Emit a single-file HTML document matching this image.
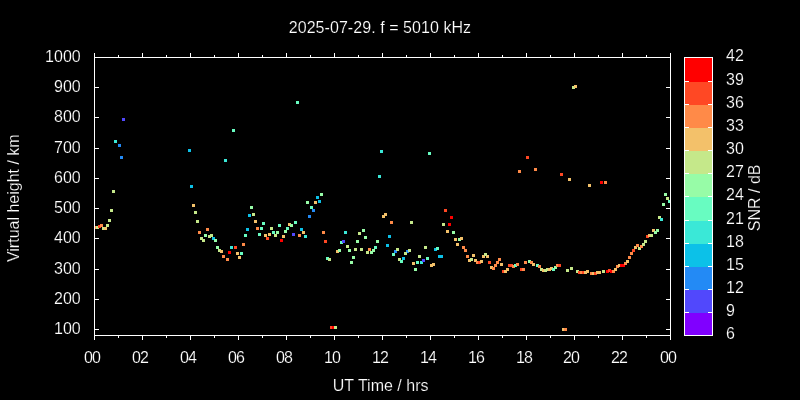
<!DOCTYPE html>
<html><head><meta charset="utf-8"><title>Virtual height plot</title>
<style>html,body{margin:0;padding:0;background:#000;}body{width:800px;height:400px;overflow:hidden;}svg{display:block;}text{font-family:"Liberation Sans",Arial,sans-serif;font-size:16px;fill:#fff;stroke:#000;stroke-width:0.2px;}</style></head><body>
<svg width="800" height="400" viewBox="0 0 800 400">
<rect width="800" height="400" fill="#000"/>
<g shape-rendering="crispEdges">
<rect x="122" y="118" width="3" height="3" fill="#5148fc"/>
<rect x="232" y="129" width="3" height="3" fill="#68fcc1"/>
<rect x="114" y="140" width="3" height="3" fill="#3ae8d7"/>
<rect x="118" y="144" width="3" height="3" fill="#238af5"/>
<rect x="120" y="156" width="3" height="3" fill="#238af5"/>
<rect x="188" y="149" width="3" height="3" fill="#0cc1e8"/>
<rect x="224" y="159" width="3" height="3" fill="#3ae8d7"/>
<rect x="190" y="185" width="3" height="3" fill="#0cc1e8"/>
<rect x="112" y="190" width="3" height="3" fill="#c5e88a"/>
<rect x="192" y="204" width="3" height="3" fill="#f3c16a"/>
<rect x="194" y="211" width="3" height="3" fill="#c5e88a"/>
<rect x="110" y="209" width="3" height="3" fill="#c5e88a"/>
<rect x="108" y="219" width="3" height="3" fill="#c5e88a"/>
<rect x="106" y="224" width="3" height="3" fill="#c5e88a"/>
<rect x="94" y="226" width="3" height="3" fill="#ff8a48"/>
<rect x="96" y="226" width="3" height="3" fill="#c5e88a"/>
<rect x="98" y="225" width="3" height="3" fill="#ff4824"/>
<rect x="100" y="224" width="3" height="3" fill="#ff8a48"/>
<rect x="102" y="227" width="3" height="3" fill="#c5e88a"/>
<rect x="104" y="227" width="3" height="3" fill="#f3c16a"/>
<rect x="196" y="220" width="3" height="3" fill="#c5e88a"/>
<rect x="198" y="231" width="3" height="3" fill="#ff8a48"/>
<rect x="206" y="228" width="3" height="3" fill="#ff8a48"/>
<rect x="200" y="237" width="3" height="3" fill="#c5e88a"/>
<rect x="202" y="239" width="3" height="3" fill="#c5e88a"/>
<rect x="204" y="234" width="3" height="3" fill="#97fca7"/>
<rect x="208" y="235" width="3" height="3" fill="#c5e88a"/>
<rect x="210" y="234" width="3" height="3" fill="#c5e88a"/>
<rect x="212" y="237" width="3" height="3" fill="#0cc1e8"/>
<rect x="214" y="239" width="3" height="3" fill="#97fca7"/>
<rect x="250" y="206" width="3" height="3" fill="#97fca7"/>
<rect x="248" y="214" width="3" height="3" fill="#0cc1e8"/>
<rect x="252" y="213" width="3" height="3" fill="#c5e88a"/>
<rect x="254" y="220" width="3" height="3" fill="#f3c16a"/>
<rect x="246" y="228" width="3" height="3" fill="#0cc1e8"/>
<rect x="244" y="234" width="3" height="3" fill="#68fcc1"/>
<rect x="242" y="243" width="3" height="3" fill="#ff8a48"/>
<rect x="256" y="227" width="3" height="3" fill="#ff8a48"/>
<rect x="260" y="227" width="3" height="3" fill="#68fcc1"/>
<rect x="262" y="222" width="3" height="3" fill="#68fcc1"/>
<rect x="258" y="233" width="3" height="3" fill="#68fcc1"/>
<rect x="264" y="234" width="3" height="3" fill="#f3c16a"/>
<rect x="266" y="237" width="3" height="3" fill="#ff4824"/>
<rect x="268" y="233" width="3" height="3" fill="#f3c16a"/>
<rect x="270" y="227" width="3" height="3" fill="#c5e88a"/>
<rect x="272" y="231" width="3" height="3" fill="#68fcc1"/>
<rect x="274" y="234" width="3" height="3" fill="#c5e88a"/>
<rect x="276" y="231" width="3" height="3" fill="#97fca7"/>
<rect x="278" y="224" width="3" height="3" fill="#68fcc1"/>
<rect x="280" y="239" width="3" height="3" fill="#ff0000"/>
<rect x="282" y="235" width="3" height="3" fill="#f3c16a"/>
<rect x="284" y="230" width="3" height="3" fill="#97fca7"/>
<rect x="216" y="246" width="3" height="3" fill="#97fca7"/>
<rect x="218" y="249" width="3" height="3" fill="#c5e88a"/>
<rect x="220" y="250" width="3" height="3" fill="#f3c16a"/>
<rect x="222" y="255" width="3" height="3" fill="#ff8a48"/>
<rect x="226" y="258" width="3" height="3" fill="#ff8a48"/>
<rect x="228" y="251" width="3" height="3" fill="#ff0000"/>
<rect x="230" y="246" width="3" height="3" fill="#3ae8d7"/>
<rect x="234" y="246" width="3" height="3" fill="#ff4824"/>
<rect x="236" y="252" width="3" height="3" fill="#f3c16a"/>
<rect x="238" y="256" width="3" height="3" fill="#f3c16a"/>
<rect x="240" y="252" width="3" height="3" fill="#68fcc1"/>
<rect x="320" y="193" width="3" height="3" fill="#97fca7"/>
<rect x="316" y="196" width="3" height="3" fill="#0cc1e8"/>
<rect x="318" y="200" width="3" height="3" fill="#0cc1e8"/>
<rect x="314" y="201" width="3" height="3" fill="#f3c16a"/>
<rect x="306" y="201" width="3" height="3" fill="#97fca7"/>
<rect x="310" y="206" width="3" height="3" fill="#68fcc1"/>
<rect x="312" y="209" width="3" height="3" fill="#238af5"/>
<rect x="308" y="215" width="3" height="3" fill="#238af5"/>
<rect x="294" y="221" width="3" height="3" fill="#68fcc1"/>
<rect x="288" y="223" width="3" height="3" fill="#f3c16a"/>
<rect x="290" y="224" width="3" height="3" fill="#97fca7"/>
<rect x="286" y="227" width="3" height="3" fill="#68fcc1"/>
<rect x="300" y="228" width="3" height="3" fill="#0cc1e8"/>
<rect x="302" y="231" width="3" height="3" fill="#f3c16a"/>
<rect x="292" y="233" width="3" height="3" fill="#5148fc"/>
<rect x="298" y="234" width="3" height="3" fill="#ff8a48"/>
<rect x="304" y="235" width="3" height="3" fill="#3ae8d7"/>
<rect x="322" y="231" width="3" height="3" fill="#ff8a48"/>
<rect x="324" y="240" width="3" height="3" fill="#ff4824"/>
<rect x="326" y="257" width="3" height="3" fill="#68fcc1"/>
<rect x="328" y="258" width="3" height="3" fill="#c5e88a"/>
<rect x="344" y="231" width="3" height="3" fill="#3ae8d7"/>
<rect x="340" y="241" width="3" height="3" fill="#68fcc1"/>
<rect x="342" y="240" width="3" height="3" fill="#5148fc"/>
<rect x="346" y="245" width="3" height="3" fill="#c5e88a"/>
<rect x="336" y="250" width="3" height="3" fill="#f3c16a"/>
<rect x="338" y="249" width="3" height="3" fill="#97fca7"/>
<rect x="348" y="249" width="3" height="3" fill="#97fca7"/>
<rect x="350" y="261" width="3" height="3" fill="#97fca7"/>
<rect x="352" y="256" width="3" height="3" fill="#97fca7"/>
<rect x="354" y="248" width="3" height="3" fill="#c5e88a"/>
<rect x="356" y="240" width="3" height="3" fill="#97fca7"/>
<rect x="358" y="232" width="3" height="3" fill="#c5e88a"/>
<rect x="362" y="229" width="3" height="3" fill="#97fca7"/>
<rect x="360" y="248" width="3" height="3" fill="#c5e88a"/>
<rect x="364" y="236" width="3" height="3" fill="#97fca7"/>
<rect x="366" y="251" width="3" height="3" fill="#c5e88a"/>
<rect x="368" y="248" width="3" height="3" fill="#ff8a48"/>
<rect x="370" y="251" width="3" height="3" fill="#97fca7"/>
<rect x="372" y="249" width="3" height="3" fill="#97fca7"/>
<rect x="374" y="246" width="3" height="3" fill="#68fcc1"/>
<rect x="376" y="240" width="3" height="3" fill="#97fca7"/>
<rect x="384" y="213" width="3" height="3" fill="#f3c16a"/>
<rect x="382" y="215" width="3" height="3" fill="#f3c16a"/>
<rect x="390" y="221" width="3" height="3" fill="#ff8a48"/>
<rect x="410" y="221" width="3" height="3" fill="#c5e88a"/>
<rect x="388" y="235" width="3" height="3" fill="#0cc1e8"/>
<rect x="386" y="244" width="3" height="3" fill="#0cc1e8"/>
<rect x="394" y="250" width="3" height="3" fill="#238af5"/>
<rect x="396" y="248" width="3" height="3" fill="#c5e88a"/>
<rect x="392" y="253" width="3" height="3" fill="#68fcc1"/>
<rect x="406" y="250" width="3" height="3" fill="#238af5"/>
<rect x="408" y="249" width="3" height="3" fill="#c5e88a"/>
<rect x="404" y="252" width="3" height="3" fill="#c5e88a"/>
<rect x="402" y="257" width="3" height="3" fill="#0cc1e8"/>
<rect x="398" y="258" width="3" height="3" fill="#c5e88a"/>
<rect x="400" y="260" width="3" height="3" fill="#68fcc1"/>
<rect x="424" y="246" width="3" height="3" fill="#c5e88a"/>
<rect x="418" y="255" width="3" height="3" fill="#c5e88a"/>
<rect x="412" y="262" width="3" height="3" fill="#f3c16a"/>
<rect x="416" y="261" width="3" height="3" fill="#68fcc1"/>
<rect x="414" y="268" width="3" height="3" fill="#97fca7"/>
<rect x="420" y="261" width="3" height="3" fill="#3ae8d7"/>
<rect x="422" y="259" width="3" height="3" fill="#5148fc"/>
<rect x="426" y="257" width="3" height="3" fill="#68fcc1"/>
<rect x="434" y="248" width="3" height="3" fill="#0cc1e8"/>
<rect x="436" y="247" width="3" height="3" fill="#68fcc1"/>
<rect x="430" y="264" width="3" height="3" fill="#f3c16a"/>
<rect x="432" y="263" width="3" height="3" fill="#f3c16a"/>
<rect x="438" y="255" width="3" height="3" fill="#0cc1e8"/>
<rect x="440" y="255" width="3" height="3" fill="#0cc1e8"/>
<rect x="444" y="209" width="3" height="3" fill="#ff4824"/>
<rect x="450" y="216" width="3" height="3" fill="#ff0000"/>
<rect x="448" y="223" width="3" height="3" fill="#ff0000"/>
<rect x="442" y="223" width="3" height="3" fill="#c5e88a"/>
<rect x="446" y="230" width="3" height="3" fill="#f3c16a"/>
<rect x="452" y="231" width="3" height="3" fill="#97fca7"/>
<rect x="454" y="238" width="3" height="3" fill="#f3c16a"/>
<rect x="458" y="238" width="3" height="3" fill="#97fca7"/>
<rect x="460" y="237" width="3" height="3" fill="#f3c16a"/>
<rect x="456" y="243" width="3" height="3" fill="#f3c16a"/>
<rect x="462" y="246" width="3" height="3" fill="#ff8a48"/>
<rect x="464" y="249" width="3" height="3" fill="#ff8a48"/>
<rect x="466" y="255" width="3" height="3" fill="#ff8a48"/>
<rect x="468" y="259" width="3" height="3" fill="#f3c16a"/>
<rect x="470" y="258" width="3" height="3" fill="#c5e88a"/>
<rect x="472" y="254" width="3" height="3" fill="#f3c16a"/>
<rect x="474" y="259" width="3" height="3" fill="#f3c16a"/>
<rect x="476" y="261" width="3" height="3" fill="#ff8a48"/>
<rect x="478" y="261" width="3" height="3" fill="#ff4824"/>
<rect x="480" y="260" width="3" height="3" fill="#f3c16a"/>
<rect x="482" y="255" width="3" height="3" fill="#f3c16a"/>
<rect x="486" y="255" width="3" height="3" fill="#f3c16a"/>
<rect x="484" y="253" width="3" height="3" fill="#c5e88a"/>
<rect x="488" y="261" width="3" height="3" fill="#ff4824"/>
<rect x="490" y="266" width="3" height="3" fill="#f3c16a"/>
<rect x="492" y="267" width="3" height="3" fill="#ff8a48"/>
<rect x="494" y="264" width="3" height="3" fill="#ff8a48"/>
<rect x="496" y="261" width="3" height="3" fill="#ff8a48"/>
<rect x="498" y="258" width="3" height="3" fill="#ff8a48"/>
<rect x="500" y="263" width="3" height="3" fill="#f3c16a"/>
<rect x="502" y="270" width="3" height="3" fill="#ff4824"/>
<rect x="504" y="270" width="3" height="3" fill="#f3c16a"/>
<rect x="506" y="268" width="3" height="3" fill="#f3c16a"/>
<rect x="508" y="264" width="3" height="3" fill="#ff4824"/>
<rect x="510" y="264" width="3" height="3" fill="#ff4824"/>
<rect x="512" y="265" width="3" height="3" fill="#ff8a48"/>
<rect x="514" y="264" width="3" height="3" fill="#68fcc1"/>
<rect x="516" y="263" width="3" height="3" fill="#ff8a48"/>
<rect x="520" y="268" width="3" height="3" fill="#ff4824"/>
<rect x="522" y="268" width="3" height="3" fill="#ff8a48"/>
<rect x="524" y="261" width="3" height="3" fill="#ff8a48"/>
<rect x="528" y="260" width="3" height="3" fill="#97fca7"/>
<rect x="530" y="261" width="3" height="3" fill="#ff8a48"/>
<rect x="532" y="263" width="3" height="3" fill="#f3c16a"/>
<rect x="536" y="264" width="3" height="3" fill="#68fcc1"/>
<rect x="538" y="265" width="3" height="3" fill="#ff8a48"/>
<rect x="540" y="268" width="3" height="3" fill="#c5e88a"/>
<rect x="542" y="269" width="3" height="3" fill="#f3c16a"/>
<rect x="544" y="269" width="3" height="3" fill="#c5e88a"/>
<rect x="546" y="268" width="3" height="3" fill="#c5e88a"/>
<rect x="548" y="268" width="3" height="3" fill="#f3c16a"/>
<rect x="550" y="267" width="3" height="3" fill="#f3c16a"/>
<rect x="552" y="268" width="3" height="3" fill="#68fcc1"/>
<rect x="554" y="266" width="3" height="3" fill="#97fca7"/>
<rect x="556" y="264" width="3" height="3" fill="#ff8a48"/>
<rect x="558" y="264" width="3" height="3" fill="#ff4824"/>
<rect x="566" y="269" width="3" height="3" fill="#c5e88a"/>
<rect x="570" y="267" width="3" height="3" fill="#c5e88a"/>
<rect x="576" y="270" width="3" height="3" fill="#c5e88a"/>
<rect x="578" y="271" width="3" height="3" fill="#ff4824"/>
<rect x="580" y="271" width="3" height="3" fill="#ff8a48"/>
<rect x="582" y="271" width="3" height="3" fill="#ff4824"/>
<rect x="584" y="271" width="3" height="3" fill="#f3c16a"/>
<rect x="586" y="270" width="3" height="3" fill="#f3c16a"/>
<rect x="590" y="272" width="3" height="3" fill="#ff8a48"/>
<rect x="592" y="272" width="3" height="3" fill="#f3c16a"/>
<rect x="594" y="272" width="3" height="3" fill="#ff4824"/>
<rect x="596" y="271" width="3" height="3" fill="#f3c16a"/>
<rect x="598" y="271" width="3" height="3" fill="#f3c16a"/>
<rect x="602" y="270" width="3" height="3" fill="#c5e88a"/>
<rect x="606" y="270" width="3" height="3" fill="#ff0000"/>
<rect x="608" y="269" width="3" height="3" fill="#ff4824"/>
<rect x="610" y="270" width="3" height="3" fill="#ff0000"/>
<rect x="612" y="270" width="3" height="3" fill="#ff8a48"/>
<rect x="614" y="268" width="3" height="3" fill="#f3c16a"/>
<rect x="616" y="265" width="3" height="3" fill="#ff8a48"/>
<rect x="618" y="264" width="3" height="3" fill="#f3c16a"/>
<rect x="620" y="264" width="3" height="3" fill="#ff0000"/>
<rect x="622" y="264" width="3" height="3" fill="#ff0000"/>
<rect x="624" y="262" width="3" height="3" fill="#ff8a48"/>
<rect x="626" y="260" width="3" height="3" fill="#f3c16a"/>
<rect x="628" y="256" width="3" height="3" fill="#ff8a48"/>
<rect x="630" y="252" width="3" height="3" fill="#ff8a48"/>
<rect x="632" y="249" width="3" height="3" fill="#ff4824"/>
<rect x="634" y="246" width="3" height="3" fill="#f3c16a"/>
<rect x="636" y="244" width="3" height="3" fill="#ff8a48"/>
<rect x="638" y="247" width="3" height="3" fill="#c5e88a"/>
<rect x="640" y="245" width="3" height="3" fill="#ff8a48"/>
<rect x="642" y="243" width="3" height="3" fill="#c5e88a"/>
<rect x="644" y="240" width="3" height="3" fill="#c5e88a"/>
<rect x="646" y="235" width="3" height="3" fill="#ff4824"/>
<rect x="648" y="234" width="3" height="3" fill="#f3c16a"/>
<rect x="650" y="234" width="3" height="3" fill="#c5e88a"/>
<rect x="652" y="229" width="3" height="3" fill="#f3c16a"/>
<rect x="654" y="231" width="3" height="3" fill="#97fca7"/>
<rect x="656" y="229" width="3" height="3" fill="#97fca7"/>
<rect x="664" y="193" width="3" height="3" fill="#97fca7"/>
<rect x="666" y="197" width="3" height="3" fill="#c5e88a"/>
<rect x="668" y="200" width="3" height="3" fill="#68fcc1"/>
<rect x="662" y="203" width="3" height="3" fill="#97fca7"/>
<rect x="658" y="216" width="3" height="3" fill="#c5e88a"/>
<rect x="660" y="218" width="3" height="3" fill="#3ae8d7"/>
<rect x="296" y="101" width="3" height="3" fill="#68fcc1"/>
<rect x="380" y="150" width="3" height="3" fill="#3ae8d7"/>
<rect x="428" y="152" width="3" height="3" fill="#68fcc1"/>
<rect x="378" y="175" width="3" height="3" fill="#3ae8d7"/>
<rect x="572" y="86" width="3" height="3" fill="#c5e88a"/>
<rect x="574" y="85" width="3" height="3" fill="#f3c16a"/>
<rect x="526" y="156" width="3" height="3" fill="#ff4824"/>
<rect x="518" y="170" width="3" height="3" fill="#ff8a48"/>
<rect x="534" y="168" width="3" height="3" fill="#ff8a48"/>
<rect x="560" y="173" width="3" height="3" fill="#ff4824"/>
<rect x="568" y="178" width="3" height="3" fill="#f3c16a"/>
<rect x="588" y="184" width="3" height="3" fill="#f3c16a"/>
<rect x="600" y="181" width="3" height="3" fill="#ff0000"/>
<rect x="604" y="181" width="3" height="3" fill="#ff8a48"/>
<rect x="330" y="326" width="3" height="3" fill="#ff4824"/>
<rect x="332" y="326" width="3" height="3" fill="#ff0000"/>
<rect x="334" y="326" width="3" height="3" fill="#c5e88a"/>
<rect x="562" y="328" width="3" height="3" fill="#f3c16a"/>
<rect x="564" y="328" width="3" height="3" fill="#ff8a48"/>
</g>
<g fill="#fff" shape-rendering="crispEdges">
<rect x="94" y="57" width="577" height="1"/>
<rect x="94" y="335" width="577" height="1"/>
<rect x="94" y="57" width="1" height="279"/>
<rect x="670" y="57" width="1" height="279"/>
<rect x="94" y="336" width="1" height="4"/>
<rect x="94" y="53" width="1" height="4"/>
<rect x="118" y="336" width="1" height="2"/>
<rect x="118" y="55" width="1" height="2"/>
<rect x="142" y="336" width="1" height="4"/>
<rect x="142" y="53" width="1" height="4"/>
<rect x="166" y="336" width="1" height="2"/>
<rect x="166" y="55" width="1" height="2"/>
<rect x="190" y="336" width="1" height="4"/>
<rect x="190" y="53" width="1" height="4"/>
<rect x="214" y="336" width="1" height="2"/>
<rect x="214" y="55" width="1" height="2"/>
<rect x="238" y="336" width="1" height="4"/>
<rect x="238" y="53" width="1" height="4"/>
<rect x="262" y="336" width="1" height="2"/>
<rect x="262" y="55" width="1" height="2"/>
<rect x="286" y="336" width="1" height="4"/>
<rect x="286" y="53" width="1" height="4"/>
<rect x="310" y="336" width="1" height="2"/>
<rect x="310" y="55" width="1" height="2"/>
<rect x="334" y="336" width="1" height="4"/>
<rect x="334" y="53" width="1" height="4"/>
<rect x="358" y="336" width="1" height="2"/>
<rect x="358" y="55" width="1" height="2"/>
<rect x="382" y="336" width="1" height="4"/>
<rect x="382" y="53" width="1" height="4"/>
<rect x="406" y="336" width="1" height="2"/>
<rect x="406" y="55" width="1" height="2"/>
<rect x="430" y="336" width="1" height="4"/>
<rect x="430" y="53" width="1" height="4"/>
<rect x="454" y="336" width="1" height="2"/>
<rect x="454" y="55" width="1" height="2"/>
<rect x="478" y="336" width="1" height="4"/>
<rect x="478" y="53" width="1" height="4"/>
<rect x="502" y="336" width="1" height="2"/>
<rect x="502" y="55" width="1" height="2"/>
<rect x="526" y="336" width="1" height="4"/>
<rect x="526" y="53" width="1" height="4"/>
<rect x="550" y="336" width="1" height="2"/>
<rect x="550" y="55" width="1" height="2"/>
<rect x="574" y="336" width="1" height="4"/>
<rect x="574" y="53" width="1" height="4"/>
<rect x="598" y="336" width="1" height="2"/>
<rect x="598" y="55" width="1" height="2"/>
<rect x="622" y="336" width="1" height="4"/>
<rect x="622" y="53" width="1" height="4"/>
<rect x="646" y="336" width="1" height="2"/>
<rect x="646" y="55" width="1" height="2"/>
<rect x="670" y="336" width="1" height="4"/>
<rect x="670" y="53" width="1" height="4"/>
<rect x="95" y="329" width="4" height="1"/>
<rect x="666" y="329" width="4" height="1"/>
<rect x="95" y="299" width="4" height="1"/>
<rect x="666" y="299" width="4" height="1"/>
<rect x="95" y="269" width="4" height="1"/>
<rect x="666" y="269" width="4" height="1"/>
<rect x="95" y="238" width="4" height="1"/>
<rect x="666" y="238" width="4" height="1"/>
<rect x="95" y="208" width="4" height="1"/>
<rect x="666" y="208" width="4" height="1"/>
<rect x="95" y="178" width="4" height="1"/>
<rect x="666" y="178" width="4" height="1"/>
<rect x="95" y="148" width="4" height="1"/>
<rect x="666" y="148" width="4" height="1"/>
<rect x="95" y="117" width="4" height="1"/>
<rect x="666" y="117" width="4" height="1"/>
<rect x="95" y="87" width="4" height="1"/>
<rect x="666" y="87" width="4" height="1"/>
<rect x="95" y="57" width="4" height="1"/>
<rect x="666" y="57" width="4" height="1"/>
</g>
<g shape-rendering="crispEdges">
<rect x="684" y="312" width="29" height="24" fill="#8000ff"/>
<rect x="684" y="289" width="29" height="24" fill="#5148fc"/>
<rect x="684" y="266" width="29" height="24" fill="#238af5"/>
<rect x="684" y="243" width="29" height="24" fill="#0cc1e8"/>
<rect x="684" y="220" width="29" height="24" fill="#3ae8d7"/>
<rect x="684" y="196" width="29" height="25" fill="#68fcc1"/>
<rect x="684" y="173" width="29" height="24" fill="#97fca7"/>
<rect x="684" y="150" width="29" height="24" fill="#c5e88a"/>
<rect x="684" y="127" width="29" height="24" fill="#f3c16a"/>
<rect x="684" y="104" width="29" height="24" fill="#ff8a48"/>
<rect x="684" y="81" width="29" height="24" fill="#ff4824"/>
<rect x="684" y="57" width="29" height="25" fill="#ff0000"/>
<g fill="#fff">
<rect x="684" y="57" width="29" height="1"/>
<rect x="684" y="335" width="29" height="1"/>
<rect x="684" y="57" width="1" height="279"/>
<rect x="712" y="57" width="1" height="279"/>
<rect x="685" y="312" width="4" height="1"/>
<rect x="708" y="312" width="4" height="1"/>
<rect x="685" y="289" width="4" height="1"/>
<rect x="708" y="289" width="4" height="1"/>
<rect x="685" y="266" width="4" height="1"/>
<rect x="708" y="266" width="4" height="1"/>
<rect x="685" y="243" width="4" height="1"/>
<rect x="708" y="243" width="4" height="1"/>
<rect x="685" y="220" width="4" height="1"/>
<rect x="708" y="220" width="4" height="1"/>
<rect x="685" y="196" width="4" height="1"/>
<rect x="708" y="196" width="4" height="1"/>
<rect x="685" y="173" width="4" height="1"/>
<rect x="708" y="173" width="4" height="1"/>
<rect x="685" y="150" width="4" height="1"/>
<rect x="708" y="150" width="4" height="1"/>
<rect x="685" y="127" width="4" height="1"/>
<rect x="708" y="127" width="4" height="1"/>
<rect x="685" y="104" width="4" height="1"/>
<rect x="708" y="104" width="4" height="1"/>
<rect x="685" y="81" width="4" height="1"/>
<rect x="708" y="81" width="4" height="1"/>
</g></g>
<text x="379.9" y="33" text-anchor="middle" textLength="182.3" lengthAdjust="spacing">2025-07-29. f = 5010 kHz</text>
<text x="80.7" y="334.0" text-anchor="end">100</text>
<text x="80.7" y="303.7" text-anchor="end">200</text>
<text x="80.7" y="273.5" text-anchor="end">300</text>
<text x="80.7" y="243.3" text-anchor="end">400</text>
<text x="80.7" y="213.1" text-anchor="end">500</text>
<text x="80.7" y="182.9" text-anchor="end">600</text>
<text x="80.7" y="152.7" text-anchor="end">700</text>
<text x="80.7" y="122.4" text-anchor="end">800</text>
<text x="80.7" y="92.2" text-anchor="end">900</text>
<text x="80.7" y="62.0" text-anchor="end">1000</text>
<text x="84 92" y="363">00</text>
<text x="132 140" y="363">02</text>
<text x="180 188" y="363">04</text>
<text x="228 236" y="363">06</text>
<text x="276 284" y="363">08</text>
<text x="324 332" y="363">10</text>
<text x="372 380" y="363">12</text>
<text x="420 428" y="363">14</text>
<text x="468 476" y="363">16</text>
<text x="516 524" y="363">18</text>
<text x="563 571" y="363">20</text>
<text x="611 619" y="363">22</text>
<text x="660 668" y="363">00</text>
<text x="380.6" y="391" text-anchor="middle">UT Time / hrs</text>
<text transform="translate(19,198.2) rotate(-90)" text-anchor="middle">Virtual height / km</text>
<text x="726 735" y="339">6</text>
<text x="726 735" y="316">9</text>
<text x="726 735" y="293">12</text>
<text x="726 735" y="270">15</text>
<text x="726 735" y="247">18</text>
<text x="726 735" y="224">21</text>
<text x="726 735" y="200">24</text>
<text x="726 735" y="177">27</text>
<text x="726 735" y="154">30</text>
<text x="726 735" y="131">33</text>
<text x="726 735" y="108">36</text>
<text x="726 735" y="85">39</text>
<text x="726 735" y="61">42</text>
<text transform="translate(760,197.8) rotate(-90)" text-anchor="middle">SNR / dB</text>
</svg></body></html>
